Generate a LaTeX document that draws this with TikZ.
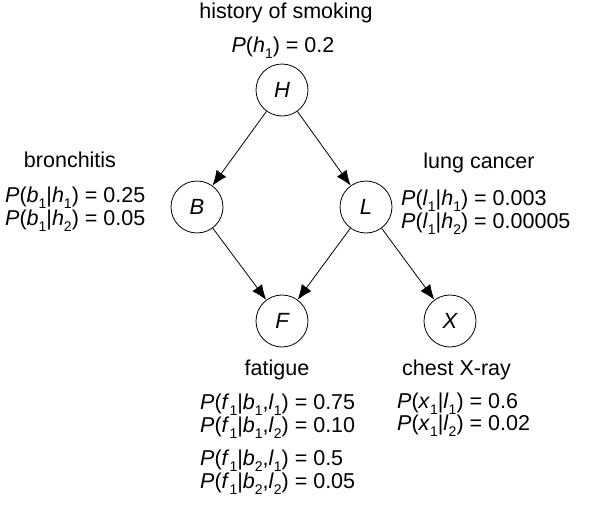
\documentclass[tikz,border=0pt]{standalone}
\usepackage{fontspec}
\setmainfont{Liberation Sans}
\usetikzlibrary{positioning,arrows.meta}
\tikzstyle{state} = [circle, draw, line width=0.8pt, minimum size=52pt, inner sep=0pt,
    font=\fontsize{22}{22}\selectfont\itshape]
\tikzstyle{heading} = [inner sep=0pt, font=\fontsize{21.5}{22}\selectfont]
\tikzstyle{prob} = [inner sep=0pt, align=left, anchor=base west, font=\fontsize{21.5}{20}\selectfont]
\tikzstyle{line} = [draw, line width=0.8pt, -{Latex[length=15pt,width=12pt]}]
\newcommand{\vr}[2]{\textit{#1}\raisebox{-6pt}{\fontsize{14}{14}\selectfont #2}}

\begin{document}
\begin{tikzpicture}[x=1pt, y=1pt, on grid]
    \useasboundingbox (0,0) rectangle (600,-506);
    % Place nodes
    \node [state] (H) at (282,-90) {H};
    \node [state, below left=117pt and 85pt of H] (B) {B};
    \node [state, below right=117pt and 84pt of H] (L) {L};
    \node [state, below right=114pt and 85pt of B] (F) {F};
    \node [state, below right=114pt and 84pt of L] (X) {X};

    % Names and tables (base anchor = last line)
    \node [heading, anchor=base] (hname) at (286,-19) {history of smoking};
    \node [heading, anchor=base] (hprob) at (283,-52) {\textit{P}(\vr{h}{1}) = 0.2};
    \node [heading, anchor=base] (bname) at (70,-167) {bronchitis};
    \node [prob] (bprob) at (5,-225)
        {\textit{P}(\vr{b}{1}|\vr{h}{1}) = 0.25\\\textit{P}(\vr{b}{1}|\vr{h}{2}) = 0.05};
    \node [heading, anchor=base] (lname) at (479,-168) {lung cancer};
    \node [prob] (lprob) at (401,-228)
        {\textit{P}(\vr{l}{1}|\vr{h}{1}) = 0.003\\\textit{P}(\vr{l}{1}|\vr{h}{2}) = 0.00005};
    \node [heading, anchor=base] (fname) at (277,-375) {fatigue};
    \node [prob, font=\fontsize{21.5}{23}\selectfont] (fprob) at (200,-488)
        {\textit{P}(\vr{f}{1}|\vr{b}{1},\vr{l}{1}) = 0.75\\
         \textit{P}(\vr{f}{1}|\vr{b}{1},\vr{l}{2}) = 0.10\\[10pt]
         \textit{P}(\vr{f}{1}|\vr{b}{2},\vr{l}{1}) = 0.5\\
         \textit{P}(\vr{f}{1}|\vr{b}{2},\vr{l}{2}) = 0.05};
    \node [heading, anchor=base west] (xname) at (402,-375) {chest X-ray};
    \node [prob, font=\fontsize{21.5}{22}\selectfont] (xprob) at (397,-430)
        {\textit{P}(\vr{x}{1}|\vr{l}{1}) = 0.6\\\textit{P}(\vr{x}{1}|\vr{l}{2}) = 0.02};

    % Draw edges
    \path [line] (H) -- (B);
    \path [line] (H) -- (L);
    \path [line] (B) -- (F);
    \path [line] (L) -- (F);
    \path [line] (L) -- (X);
\end{tikzpicture}
\end{document}
